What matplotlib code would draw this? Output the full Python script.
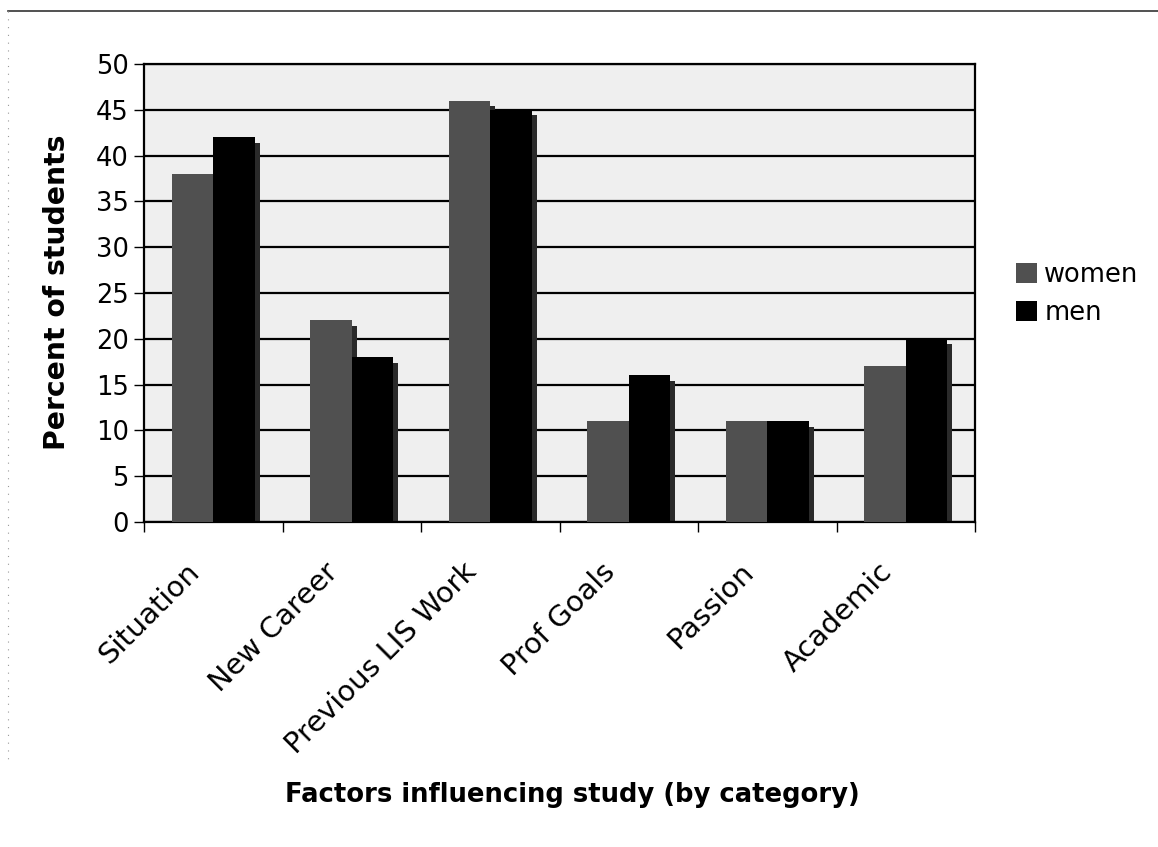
import matplotlib
matplotlib.use("Agg")
import matplotlib.pyplot as plt
import matplotlib.transforms as mtransforms
import numpy as np
from matplotlib.lines import Line2D
from matplotlib.patches import Patch

categories = ["Situation", "New Career", "Previous LIS Work", "Prof Goals", "Passion", "Academic"]
women = [38, 22, 46, 11, 11, 17]
men = [42, 18, 45, 16, 11, 20]
yticks = [0, 5, 10, 15, 20, 25, 30, 35, 40, 45, 50]

plt.rcParams['font.family'] = ['DejaVu Sans']

fig = plt.figure(figsize=(11.58, 8.47), dpi=100)
ax = fig.add_axes([144/1158, 1-522/847, (975-144)/1158, (522-64)/847])
ax.set_facecolor('#efefef')

x = np.arange(len(categories))
w = 0.30
sh_w = 0.035
sh_dy = 0.6

# shadows (offset right and slightly lower)
ax.bar(x - w/2 + sh_w, np.array(women) - sh_dy, width=w, color='#2a2a2a', zorder=2)
ax.bar(x + w/2 + sh_w, np.array(men) - sh_dy, width=w, color='#2a2a2a', zorder=2)
# bars
ax.bar(x - w/2, women, width=w, color='#505050', zorder=3, label='women')
ax.bar(x + w/2, men, width=w, color='#000000', zorder=4, label='men')

ax.set_xlim(-0.5, len(categories) - 0.5)
ax.set_ylim(0, 50)
ax.set_yticks(yticks)
ax.yaxis.grid(True, color='black', linewidth=1.6, zorder=1)
ax.set_axisbelow(True)

ax.set_xticks(np.arange(len(categories) + 1) - 0.5, minor=False)
ax.set_xticklabels([])
ax.set_xticks(x, minor=True)
ax.set_xticklabels(categories, minor=True, rotation=45, ha='right', va='center',
                   rotation_mode='anchor', fontsize=20.8)
ax.tick_params(axis='x', which='minor', length=0, pad=33)
ax.tick_params(axis='x', which='major', length=7, width=1, direction='out')
ax.tick_params(axis='y', length=7, width=1, direction='out', labelsize=18.5, pad=4)
offset = mtransforms.ScaledTranslation(-18/100, 0, fig.dpi_scale_trans)
for lab in ax.get_xticklabels(minor=True):
    lab.set_transform(lab.get_transform() + offset)

for s in ax.spines.values():
    s.set_linewidth(1.6)
    s.set_color('black')

fig.text(57/1158, 1-292/847, 'Percent of students', fontsize=20.3, fontweight='bold',
         rotation=90, ha='center', va='center')
fig.text(572/1158, 1-795/847, 'Factors influencing study (by category)', fontsize=18.6,
         fontweight='bold', ha='center', va='center')

handles = [Patch(facecolor='#505050', label='women'), Patch(facecolor='#000000', label='men')]
fig.legend(handles=handles, loc='center left', bbox_to_anchor=(993/1158, 1-294/847), frameon=False,
           fontsize=18.5, handlelength=0.8, handleheight=0.8, handletextpad=0.3, labelspacing=0.45)

# faint scan page border
fig.add_artist(Line2D([8/1158, 1], [1-11/847, 1-11/847], color='#333333', linewidth=1.2, transform=fig.transFigure))
fig.add_artist(Line2D([8/1158, 8/1158], [1-11/847, 0.1], color='#999999', linewidth=0.8, linestyle=(0, (1, 6)), transform=fig.transFigure))

fig.savefig('out.png', dpi=100)
